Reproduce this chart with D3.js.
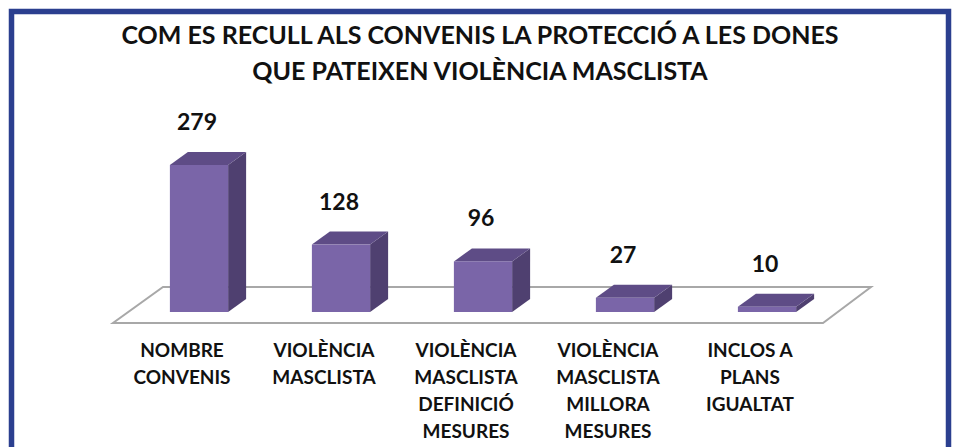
<!DOCTYPE html>
<html>
<head>
    <meta charset="utf-8">
    <script src="https://cdn.jsdelivr.net/npm/d3@7/dist/d3.min.js"></script>
    <style>
        body { margin: 0; background: #fff; }
        text { font-family: Lato, "Open Sans", sans-serif; font-weight: bold; fill: #111; }
    </style>
</head>

<body>
<div id="chart"></div>

<script>

    var titleLines = ['COM ES RECULL ALS CONVENIS LA PROTECCIÓ A LES DONES',
                      'QUE PATEIXEN VIOLÈNCIA MASCLISTA'];

    var categories = ['nombre', 'violencia', 'definicio', 'millora', 'plans'];
    var values = [279, 128, 96, 27, 10];
    var categoryLabels = [
        ['NOMBRE', 'CONVENIS'],
        ['VIOLÈNCIA', 'MASCLISTA'],
        ['VIOLÈNCIA', 'MASCLISTA', 'DEFINICIÓ', 'MESURES'],
        ['VIOLÈNCIA', 'MASCLISTA', 'MILLORA', 'MESURES'],
        ['INCLOS A', 'PLANS', 'IGUALTAT']
    ];

    var width = 956;
    var height = 447;
    var depth = { x: 18, y: -13 };

    var svg = d3.select('#chart').append('svg')
        .attr('width', width)
        .attr('height', height);

    // blue frame (bottom edge falls outside the picture)
    svg.append('rect')
        .attr('x', 11.5)
        .attr('y', 11.5)
        .attr('width', 937)
        .attr('height', 500)
        .attr('fill', 'none')
        .attr('stroke', '#2b3f8f')
        .attr('stroke-width', 5.5);

    svg.selectAll('text.title')
        .data(titleLines)
        .enter()
        .append('text')
        .attr('class', 'title')
        .attr('x', 480)
        .attr('y', function(d, i) { return 44 + i * 36; })
        .attr('text-anchor', 'middle')
        .style('font-size', '25px')
        .text(function(d) { return d; });

    var xScale = d3.scaleBand()
        .domain(categories)
        .range([128, 838])
        .paddingInner(0.59)
        .paddingOuter(0.295);

    var yScale = d3.scaleLinear()
        .domain([0, 279])
        .range([312, 165]);

    // floor
    var floorFront = 323, floorBack = 287;
    svg.append('path')
        .attr('d', 'M113,' + floorFront + 'L823,' + floorFront + 'L871,' + floorBack + 'L163,' + floorBack + 'Z')
        .attr('fill', '#fff')
        .attr('stroke', '#a8a8a8')
        .attr('stroke-width', 2);

    var data = categories.map(function(c, i) {
        return { key: c, value: values[i], label: categoryLabels[i] };
    });

    var bars = svg.selectAll('g.bar')
        .data(data)
        .enter()
        .append('g')
        .attr('class', 'bar');

    var bw = xScale.bandwidth();

    // right side
    bars.append('path')
        .attr('fill', '#4f4070')
        .attr('d', function(d) {
            var x1 = xScale(d.key) + bw, y0 = yScale(0), y1 = yScale(d.value);
            return 'M' + x1 + ',' + y0 + 'L' + (x1 + depth.x) + ',' + (y0 + depth.y) +
                'L' + (x1 + depth.x) + ',' + (y1 + depth.y) + 'L' + x1 + ',' + y1 + 'Z';
        });

    // top
    bars.append('path')
        .attr('fill', '#5e4c86')
        .attr('d', function(d) {
            var x0 = xScale(d.key), x1 = x0 + bw, y1 = yScale(d.value);
            return 'M' + x0 + ',' + y1 + 'L' + x1 + ',' + y1 +
                'L' + (x1 + depth.x) + ',' + (y1 + depth.y) + 'L' + (x0 + depth.x) + ',' + (y1 + depth.y) + 'Z';
        });

    // front
    bars.append('rect')
        .attr('fill', '#7a65a8')
        .attr('x', function(d) { return xScale(d.key); })
        .attr('y', function(d) { return yScale(d.value); })
        .attr('width', bw)
        .attr('height', function(d) { return yScale(0) - yScale(d.value); });

    bars.append('text')
        .attr('x', function(d) { return xScale(d.key) + bw / 2 - 2; })
        .attr('y', function(d) { return yScale(d.value) - 35; })
        .attr('text-anchor', 'middle')
        .style('font-size', '23px')
        .text(function(d) { return d.value; });

    bars.append('text')
        .attr('text-anchor', 'middle')
        .style('font-size', '19px')
        .selectAll('tspan')
        .data(function(d) { return d.label.map(function(l) { return { key: d.key, text: l }; }); })
        .enter()
        .append('tspan')
        .attr('x', function(d) { return xScale(d.key) + bw / 2 - 17; })
        .attr('y', function(d, i) { return 357 + i * 27; })
        .text(function(d) { return d.text; });

</script>
</body>
</html>
